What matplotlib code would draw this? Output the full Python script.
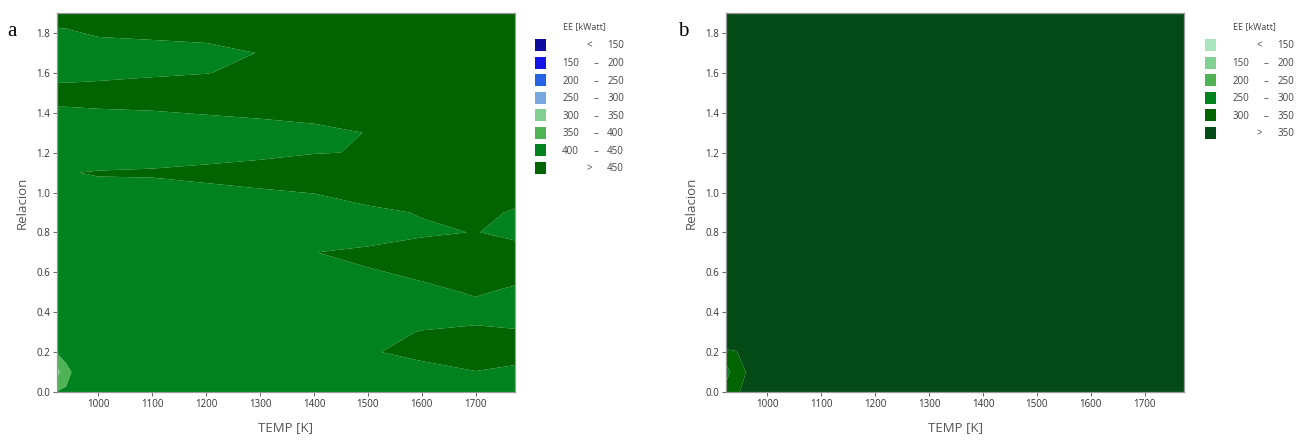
import numpy as np
import matplotlib
matplotlib.use("Agg")
import matplotlib.pyplot as plt
from matplotlib.patches import Rectangle

plt.rcParams['font.family'] = ['Open Sans', 'DejaVu Sans']

W, H = 1297, 443

# ---------------- panel a data (EE [kWatt], rows = Relacion, one list per TEMP column)
temp_a = [923, 940, 1000, 1100, 1200, 1300, 1400, 1500, 1600, 1700, 1773]
relacion_a = [0.0, 0.1, 0.2, 0.3, 0.4, 0.5, 0.6, 0.7, 0.8, 0.9,
              1.0, 1.1, 1.2, 1.3, 1.4, 1.5, 1.6, 1.7, 1.8, 1.9]
ee_a_923 = [402, 330, 404, 440, 440, 440, 440, 440, 440, 440, 440, 440, 440, 440, 444, 464, 436, 440, 445, 465]
ee_a_940 = [403, 392, 410, 440, 440, 440, 440, 440, 440, 440, 440, 448, 440, 440, 444, 464, 436, 440, 446, 464]
ee_a_1000 = [440, 440, 440, 440, 440, 440, 440, 440, 440, 440, 438, 453, 423, 440, 446, 466, 439, 434, 454, 470]
ee_a_1100 = [440, 440, 440, 440, 440, 440, 440, 440, 440, 440, 435, 455, 430, 440, 448, 468, 445, 437, 457, 470]
ee_a_1200 = [440, 440, 440, 440, 440, 440, 440, 440, 440, 440, 440, 461, 434, 432, 452, 470, 449, 440, 460, 470]
ee_a_1300 = [440, 440, 440, 440, 440, 440, 440, 440, 440, 440, 446, 466, 441, 436, 456, 465, 458, 451, 460, 470]
ee_a_1400 = [440, 440, 440, 440, 440, 440, 440, 449, 440, 431, 451, 465, 449, 441, 461, 470, 470, 470, 470, 470]
ee_a_1500 = [440, 440, 447, 443, 440, 440, 445, 465, 415, 443, 463, 470, 451, 451, 470, 470, 470, 470, 470, 470]
ee_a_1600 = [440, 439, 459, 451, 440, 439, 459, 465, 445, 452, 470, 470, 470, 470, 470, 470, 470, 470, 470, 470]
ee_a_1700 = [440, 449, 469, 457, 437, 454, 465, 460, 451, 460, 470, 470, 470, 470, 470, 470, 470, 470, 470, 470]
ee_a_1773 = [440, 443, 463, 452, 440, 443, 463, 462, 442, 446, 466, 470, 470, 470, 470, 470, 470, 470, 470, 470]
ee_a_columns = [ee_a_923, ee_a_940, ee_a_1000, ee_a_1100, ee_a_1200, ee_a_1300,
                ee_a_1400, ee_a_1500, ee_a_1600, ee_a_1700, ee_a_1773]
levels_a = [150, 200, 250, 300, 350, 400, 450]
colors_a = ['#0c0ca0', '#1414e6', '#2462e6', '#78a6de', '#82cf92', '#4fb356', '#00821f', '#006400']

# ---------------- panel b data
temp_b = [923, 940, 1000, 1773]
relacion_b = [0.0, 0.1, 0.2, 0.3, 1.9]
ee_b_923 = [330, 270, 345, 380, 380]
ee_b_940 = [345, 335, 348, 380, 380]
ee_b_1000 = [380, 380, 380, 380, 380]
ee_b_1773 = [380, 380, 380, 380, 380]
ee_b_columns = [ee_b_923, ee_b_940, ee_b_1000, ee_b_1773]
levels_b = [150, 200, 250, 300, 350]
colors_b = ['#a9e6c0', '#82cf92', '#4fb356', '#00821f', '#006400', '#034a16']

x_ticks = [1000, 1100, 1200, 1300, 1400, 1500, 1600, 1700]
y_ticks = [0.0, 0.2, 0.4, 0.6, 0.8, 1.0, 1.2, 1.4, 1.6, 1.8]

fig = plt.figure(figsize=(W / 100, H / 100), dpi=100)

def px_box(l, r, t, b):
    return [l / W, 1 - b / H, (r - l) / W, (b - t) / H]

def draw_panel(box, temps, rels, cols, levels, colors):
    ax = fig.add_axes(box)
    Z = np.column_stack([np.asarray(c, float) for c in cols])
    full_levels = [-1e6] + list(levels) + [1e6]
    ax.contourf(temps, rels, Z, levels=full_levels, colors=colors, antialiased=True)
    ax.set_xlim(temps[0], temps[-1])
    ax.set_ylim(rels[0], rels[-1])
    ax.set_xticks(x_ticks)
    ax.set_yticks(y_ticks)
    ax.set_yticklabels([f"{v:.1f}" for v in y_ticks])
    ax.tick_params(axis='both', direction='out', length=3, width=0.7, color='#666666',
                   labelsize=7, labelcolor='#333333', pad=2)
    for s in ax.spines.values():
        s.set_color('#9a9a9a')
        s.set_linewidth(0.9)
    ax.set_xlabel('TEMP [K]', fontsize=9.5, color='#555555', labelpad=8)
    ax.set_ylabel('Relacion', fontsize=9.5, color='#555555', labelpad=5)
    return ax

def draw_legend(sq_left, levels, colors):
    y0, step = 45, 17.57
    fig.text((sq_left + 49) / W, 1 - 27 / H, 'EE [kWatt]', fontsize=6.5, color='#444444',
             ha='center', va='center')
    n = len(colors)
    for i, c in enumerate(colors):
        yc = y0 + i * step
        fig.add_artist(Rectangle((sq_left / W, 1 - (yc + 6) / H), 11 / W, 12 / H,
                                 transform=fig.transFigure, facecolor=c, edgecolor='none'))
        ty = 1 - (yc + 1) / H
        kw = dict(fontsize=7, color='#444444', va='center')
        if i == 0:
            fig.text((sq_left + 54) / W, ty, '<', ha='center', **kw)
            fig.text((sq_left + 89) / W, ty, f"{levels[0]}", ha='right', **kw)
        elif i == n - 1:
            fig.text((sq_left + 54) / W, ty, '>', ha='center', **kw)
            fig.text((sq_left + 89) / W, ty, f"{levels[-1]}", ha='right', **kw)
        else:
            fig.text((sq_left + 44) / W, ty, f"{levels[i-1]}", ha='right', **kw)
            fig.text((sq_left + 61) / W, ty, '\u2013', ha='center', **kw)
            fig.text((sq_left + 89) / W, ty, f"{levels[i]}", ha='right', **kw)

draw_panel(px_box(57, 515, 13, 392), temp_a, relacion_a, ee_a_columns, levels_a, colors_a)
draw_panel(px_box(726, 1184, 13, 392), temp_b, relacion_b, ee_b_columns, levels_b, colors_b)
draw_legend(535, levels_a, colors_a)
draw_legend(1205, levels_b, colors_b)

fig.text(12 / W, 1 - 32 / H, 'a', fontsize=15, family='Liberation Serif', ha='center', va='center')
fig.text(683 / W, 1 - 32 / H, 'b', fontsize=15, family='Liberation Serif', ha='center', va='center')

fig.savefig('out.png', dpi=100)
